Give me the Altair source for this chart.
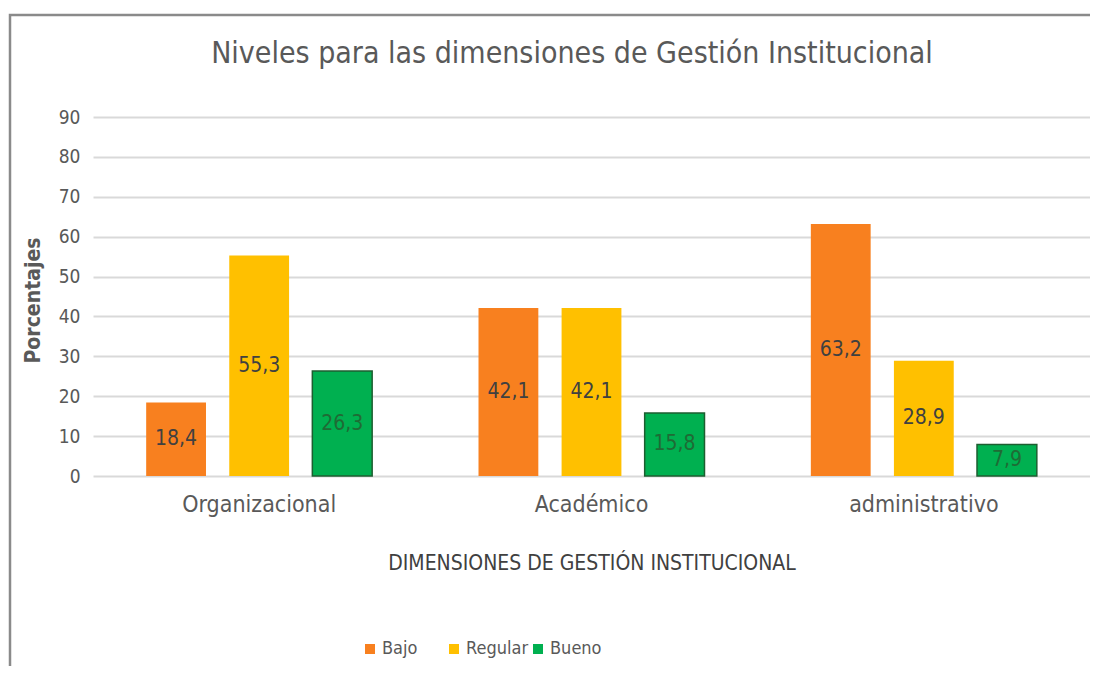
import altair as alt
import pandas as pd

dimensions = ["Organizacional", "Académico", "administrativo"]
levels = ["Bajo", "Regular", "Bueno"]
bajo = [18.4, 42.1, 63.2]
regular = [55.3, 42.1, 28.9]
bueno = [26.3, 15.8, 7.9]
colors = ["#F8801F", "#FFC000", "#00B050"]
title_text = "Niveles para las dimensiones de Gestión Institucional"

rows = []
for i, d in enumerate(dimensions):
    for lev, vals in zip(levels, [bajo, regular, bueno]):
        rows.append({"dim": d, "level": lev, "value": vals[i]})
df = pd.DataFrame(rows)

FONT = "Liberation Sans Narrow, DejaVu Sans Condensed, Liberation Sans, sans-serif"
GRAY = "#595959"
is_green = "datum.level == 'Bueno'"

x_enc = alt.X(
    "dim:N", sort=dimensions, title="DIMENSIONES DE GESTIÓN INSTITUCIONAL",
    scale=alt.Scale(paddingInner=0.32, paddingOuter=0.16),
    axis=alt.Axis(labelAngle=0, labelFontSize=23, labelColor=GRAY, labelPadding=17,
                  ticks=False, domain=False, titleFontSize=21, titleColor="#404040",
                  titleFontWeight="normal", titleY=87, titleBaseline="middle",
                  labelFont=FONT, titleFont=FONT),
)
xoff = alt.XOffset("level:N", sort=levels, scale=alt.Scale(paddingInner=0.28, paddingOuter=0))

y_axis = alt.Axis(values=list(range(0, 91, 10)), ticks=False, domain=False,
                  gridColor="#d9d9d9", gridWidth=2, labelFontSize=19,
                  labelColor=GRAY, labelPadding=13, labelFont=FONT,
                  titleFont=FONT, titleFontSize=21, titleColor=GRAY,
                  titleFontWeight=600, titleX=-60, titleY=183,
                  titleAngle=-90, titleBaseline="middle")
y_scale = alt.Scale(domain=[0, 90])

bars = alt.Chart(df).mark_bar().encode(
    x=x_enc,
    xOffset=xoff,
    y=alt.Y("value:Q", scale=y_scale, title="Porcentajes", axis=y_axis),
    color=alt.Color("level:N", sort=levels, scale=alt.Scale(domain=levels, range=colors),
                    legend=alt.Legend(title=None, orient="none", legendX=268, legendY=523,
                                      direction="horizontal", columns=3, gridAlign="all",
                                      symbolType="square", symbolSize=100,
                                      symbolStrokeWidth=0, labelFontSize=18,
                                      labelColor=GRAY, labelFont=FONT, columnPadding=0,
                                      labelOffset=3)),
    stroke=alt.value("#1d5e30"),
    strokeWidth=alt.condition(is_green, alt.value(1.5), alt.value(0)),
)

labels = alt.Chart(df).mark_text(fontSize=21, font=FONT).transform_calculate(
    label="replace(format(datum.value, '.1f'), '.', ',')",
    mid="datum.value / 2",
).encode(
    x=x_enc,
    xOffset=xoff,
    y=alt.Y("mid:Q", scale=y_scale, title="Porcentajes", axis=y_axis),
    text="label:N",
    color=alt.condition(is_green, alt.value("#1f6b35"), alt.value("#404040")),
)

frame = alt.Chart(alt.Data(values=[{}])).mark_rect(
    fillOpacity=0, stroke="#8a8a8a", strokeWidth=2.5
).encode(
    x=alt.value(-83), x2=alt.value(1020), y=alt.value(-102), y2=alt.value(700)
)

title = alt.Chart(alt.Data(values=[{"t": title_text}])).mark_text(
    font=FONT, fontSize=30, color=GRAY, align="center", baseline="alphabetic"
).encode(
    text="t:N", x=alt.value(479), y=alt.value(-54)
)

chart = alt.layer(frame, title, bars, labels).properties(
    width=997, height=359,
    autosize="none",
    padding={"left": 85, "top": 109, "right": 0, "bottom": 190},
).configure_view(stroke=None)

chart.save("out.html", embed_options={"renderer": "svg", "actions": False})
